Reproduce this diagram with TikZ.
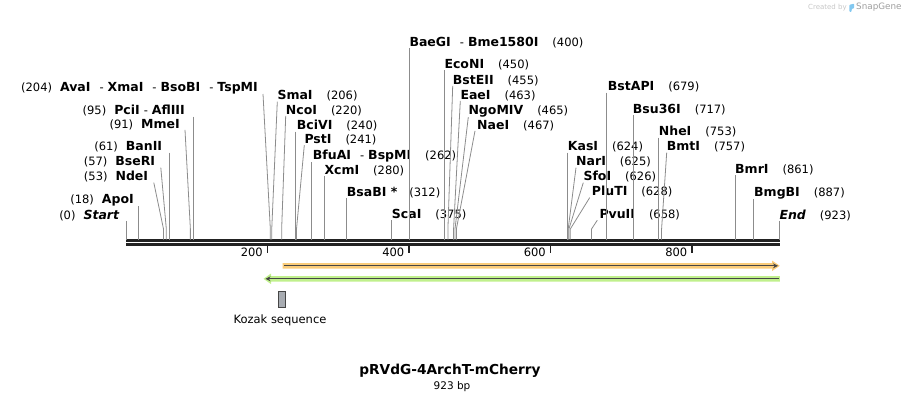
\documentclass[tikz,border=0pt]{standalone}
\usepackage{fontspec}
\setmainfont{DejaVu Sans}
\usetikzlibrary{arrows.meta}
\definecolor{cutgray}{RGB}{140,140,140}
\definecolor{seqdark}{RGB}{34,34,34}
\definecolor{featorange}{RGB}{250,204,122}
\definecolor{featgreen}{RGB}{192,240,140}
\definecolor{featline}{RGB}{70,70,70}
\definecolor{kozakgray}{RGB}{168,172,178}
\definecolor{logoblue}{RGB}{130,200,240}
\newcommand\en[1]{{\fontsize{12.5}{13}\selectfont\bfseries #1}}
\newcommand\cutsep{\hspace{9pt}-\hspace{4pt}}

\begin{document}
\begin{tikzpicture}[x=1pt,y=-1pt,
    enz/.style={font=\fontsize{11.5}{13}\selectfont, inner sep=0pt},
    rlab/.style={enz, anchor=base west},
    llab/.style={enz, anchor=base east},
    cut/.style={draw=cutgray, line width=0.8pt}]
        \def\xo{126}
        \def\scl{0.7075}
        \useasboundingbox (0,0) rectangle (906,402);

        % Sequence, 923 bp
        \coordinate (seqtop) at (\xo,239.5);
        \draw[seqdark, line width=2.5pt] (\xo,240.5) -- (779.5,240.5);
        \draw[seqdark, line width=2.5pt] (\xo,244.3) -- (779.5,244.3);

        % Ruler
        \draw[seqdark, line width=1.5pt] ({\xo+200*\scl},245) -- ++(0,8);
        \draw[seqdark, line width=1.5pt] ({\xo+400*\scl},245) -- ++(0,8);
        \draw[seqdark, line width=1.5pt] ({\xo+600*\scl},245) -- ++(0,8);
        \draw[seqdark, line width=1.5pt] ({\xo+800*\scl},245) -- ++(0,8);
        \node[enz, anchor=east] (t200) at ({\xo+200*\scl-4.5},252.5) {200};
        \node[enz, anchor=east] (t400) at ({\xo+400*\scl-4.5},252.5) {400};
        \node[enz, anchor=east] (t600) at ({\xo+600*\scl-4.5},252.5) {600};
        \node[enz, anchor=east] (t800) at ({\xo+800*\scl-4.5},252.5) {800};

        % Cut positions
        \coordinate (cstart) at ({\xo+0*\scl},229);
        \coordinate (capo) at ({\xo+18*\scl},229);
        \coordinate (cnde) at ({\xo+53*\scl},229);
        \coordinate (cbse) at ({\xo+57*\scl},229);
        \coordinate (cban) at ({\xo+61*\scl},229);
        \coordinate (cmme) at ({\xo+91*\scl},229);
        \coordinate (cpci) at ({\xo+95*\scl},229);
        \coordinate (cava) at ({\xo+204*\scl},229);
        \coordinate (csma) at ({\xo+206*\scl},229);
        \coordinate (cnco) at ({\xo+220*\scl},229);
        \coordinate (cbci) at ({\xo+240*\scl},229);
        \coordinate (cpst) at ({\xo+241*\scl},229);
        \coordinate (cbfu) at ({\xo+262*\scl},229);
        \coordinate (cxcm) at ({\xo+280*\scl},229);
        \coordinate (cbsa) at ({\xo+312*\scl},229);
        \coordinate (csca) at ({\xo+375*\scl},229);
        \coordinate (cbae) at ({\xo+400*\scl},229);
        \coordinate (ceco) at ({\xo+450*\scl},229);
        \coordinate (cbst) at ({\xo+455*\scl},229);
        \coordinate (ceae) at ({\xo+463*\scl},229);
        \coordinate (cngo) at ({\xo+465*\scl},229);
        \coordinate (cnae) at ({\xo+467*\scl},229);
        \coordinate (ckas) at ({\xo+624*\scl},229);
        \coordinate (cnar) at ({\xo+625*\scl},229);
        \coordinate (csfo) at ({\xo+626*\scl},229);
        \coordinate (cplu) at ({\xo+628*\scl},229);
        \coordinate (cpvu) at ({\xo+658*\scl},229);
        \coordinate (cbsta) at ({\xo+679*\scl},229);
        \coordinate (cbsu) at ({\xo+717*\scl},229);
        \coordinate (cnhe) at ({\xo+753*\scl},229);
        \coordinate (cbmt) at ({\xo+757*\scl},229);
        \coordinate (cbmr) at ({\xo+861*\scl},229);
        \coordinate (cbmg) at ({\xo+887*\scl},229);
        \coordinate (cend) at ({\xo+923*\scl},229);

        % Left labels
        \node[llab] (ava) at (258,91.2) {(204)\hspace{8pt}\en{AvaI}\cutsep\en{XmaI}\cutsep\en{BsoBI}\cutsep\en{TspMI}};
        \node[llab] (pci) at (185,114.9) {(95)\hspace{8pt}\en{PciI}\hspace{4pt}-\hspace{4pt}\en{AflIII}};
        \node[llab] (mme) at (180,128.2) {(91)\hspace{8pt}\en{MmeI}};
        \node[llab] (ban) at (162.3,150.9) {(61)\hspace{8pt}\en{BanII}};
        \node[llab] (bse) at (155.3,165.9) {(57)\hspace{8pt}\en{BseRI}};
        \node[llab] (nde) at (148.3,180.9) {(53)\hspace{8pt}\en{NdeI}};
        \node[llab] (apo) at (134,203.5) {(18)\hspace{8pt}\en{ApoI}};
        \node[llab] (start) at (119.3,219.2) {(0)\hspace{8pt}\en{\itshape Start}};

        % Right labels
        \node[rlab] (sma) at (277.3,99.9) {\en{SmaI}\hspace{14pt}(206)};
        \node[rlab] (nco) at (285.7,114.2) {\en{NcoI}\hspace{14pt}(220)};
        \node[rlab] (bci) at (296.7,129.9) {\en{BciVI}\hspace{14pt}(240)};
        \node[rlab] (pst) at (304.3,143.5) {\en{PstI}\hspace{14pt}(241)};
        \node[rlab] (bfu) at (312.7,159.2) {\en{BfuAI}\cutsep\en{BspMI}\hspace{14pt}(262)};
        \node[rlab] (xcm) at (324.3,174.2) {\en{XcmI}\hspace{14pt}(280)};
        \node[rlab] (bsa) at (346.7,196.5) {\en{BsaBI *}\hspace{12pt}(312)};
        \node[rlab] (sca) at (391.7,218.5) {\en{ScaI}\hspace{14pt}(375)};
        \node[rlab] (bae) at (409.3,46.5) {\en{BaeGI}\cutsep\en{Bme1580I}\hspace{14pt}(400)};
        \node[rlab] (eco) at (444.3,68.5) {\en{EcoNI}\hspace{14pt}(450)};
        \node[rlab] (bst) at (452.7,84.2) {\en{BstEII}\hspace{14pt}(455)};
        \node[rlab] (eae) at (460.3,99.2) {\en{EaeI}\hspace{14pt}(463)};
        \node[rlab] (ngo) at (468.3,114.2) {\en{NgoMIV}\hspace{14pt}(465)};
        \node[rlab] (nae) at (477,129.2) {\en{NaeI}\hspace{14pt}(467)};
        \node[rlab] (kas) at (567.7,150.9) {\en{KasI}\hspace{14pt}(624)};
        \node[rlab] (nar) at (576,165.9) {\en{NarI}\hspace{14pt}(625)};
        \node[rlab] (sfo) at (583.3,180.9) {\en{SfoI}\hspace{14pt}(626)};
        \node[rlab] (plu) at (591.7,195.9) {\en{PluTI}\hspace{14pt}(628)};
        \node[rlab] (pvu) at (599.3,218.5) {\en{PvuII}\hspace{14pt}(658)};
        \node[rlab] (bsta) at (607.7,90.9) {\en{BstAPI}\hspace{14pt}(679)};
        \node[rlab] (bsu) at (632.7,113.5) {\en{Bsu36I}\hspace{14pt}(717)};
        \node[rlab] (nhe) at (658.7,135.9) {\en{NheI}\hspace{14pt}(753)};
        \node[rlab] (bmt) at (666.7,150.9) {\en{BmtI}\hspace{14pt}(757)};
        \node[rlab] (bmr) at (735,173.5) {\en{BmrI}\hspace{14pt}(861)};
        \node[rlab] (bmg) at (754,196.5) {\en{BmgBI}\hspace{14pt}(887)};
        \node[rlab] (endl) at (779.3,219.2) {\en{\itshape End}\hspace{14pt}(923)};

        % Lines from labels to cut sites
        \draw[cut] ([xshift=5pt]ava.south east) -- (cava) -- (cava |- seqtop);
        \draw[cut] (cpci |- pci.south) -- (cpci |- seqtop);
        \draw[cut] ([xshift=5pt]mme.south east) -- (cmme) -- (cmme |- seqtop);
        \draw[cut] (cban |- ban.south) -- (cban |- seqtop);
        \draw[cut] ([xshift=5.5pt]bse.south east) -- (cbse) -- (cbse |- seqtop);
        \draw[cut] ([xshift=5.5pt]nde.south east) -- (cnde) -- (cnde |- seqtop);
        \draw[cut] (capo |- apo.south) -- (capo |- seqtop);
        \draw[cut] (cstart |- start.south) -- (cstart |- seqtop);
        \draw[cut] (sma.south west) -- (csma) -- (csma |- seqtop);
        \draw[cut] (nco.south west) -- (cnco) -- (cnco |- seqtop);
        \draw[cut] (cbci |- bci.south) -- (cbci |- seqtop);
        \draw[cut] (pst.south west) -- (cpst) -- (cpst |- seqtop);
        \draw[cut] (cbfu |- bfu.south) -- (cbfu |- seqtop);
        \draw[cut] (cxcm |- xcm.south) -- (cxcm |- seqtop);
        \draw[cut] (cbsa |- bsa.south) -- (cbsa |- seqtop);
        \draw[cut] (csca |- sca.south) -- (csca |- seqtop);
        \draw[cut] (cbae |- bae.south) -- (cbae |- seqtop);
        \draw[cut] (ceco |- eco.south) -- (ceco |- seqtop);
        \draw[cut] (bst.south west) -- (cbst) -- (cbst |- seqtop);
        \draw[cut] (eae.south west) -- (ceae) -- (ceae |- seqtop);
        \draw[cut] (ngo.south west) -- (cngo) -- (cngo |- seqtop);
        \draw[cut] ([xshift=-2pt]nae.south west) -- (cnae) -- (cnae |- seqtop);
        \draw[cut] (ckas |- kas.south) -- (ckas |- seqtop);
        \draw[cut] (nar.south west) -- (cnar) -- (cnar |- seqtop);
        \draw[cut] (sfo.south west) -- (csfo) -- (csfo |- seqtop);
        \draw[cut] ([xshift=-2pt]plu.south west) -- (cplu) -- (cplu |- seqtop);
        \draw[cut] ([xshift=-2pt]pvu.south west) -- (cpvu) -- (cpvu |- seqtop);
        \draw[cut] (cbsta |- bsta.south) -- (cbsta |- seqtop);
        \draw[cut] (cbsu |- bsu.south) -- (cbsu |- seqtop);
        \draw[cut] (cnhe |- nhe.south) -- (cnhe |- seqtop);
        \draw[cut] (bmt.south west) -- (cbmt) -- (cbmt |- seqtop);
        \draw[cut] (cbmr |- bmr.south) -- (cbmr |- seqtop);
        \draw[cut] (cbmg |- bmg.south) -- (cbmg |- seqtop);
        \draw[cut] (cend |- endl.south) -- (cend |- seqtop);

        % Forward feature (orange)
        \fill[featorange] (282.5,263) -- (772,263) -- (772,260.5) -- (779.8,265.8) -- (772,271.1) -- (772,268.6) -- (282.5,268.6) -- cycle;
        \draw[featline, line width=1.3pt, -{Stealth[length=5pt,width=5pt]}] (284,265.8) -- (778,265.8);

        % Reverse feature (green)
        \fill[featgreen] (779.8,276) -- (271,276) -- (271,273.5) -- (263.5,278.8) -- (271,284.1) -- (271,281.7) -- (779.8,281.7) -- cycle;
        \draw[featline, line width=1.3pt, -{Stealth[length=5pt,width=5pt]}] (778.5,278.8) -- (265.5,278.8);

        % Kozak sequence
        \node[draw=featline, fill=kozakgray, line width=0.8pt, inner sep=0pt, minimum width=7.4pt, minimum height=16.3pt] (kozak) at (282,299.2) {};
        \node[enz] (kozaklbl) at (280,320.7) {Kozak sequence};

        % Title
        \node[inner sep=0pt, font=\fontsize{13.7}{16}\selectfont\bfseries] (title) at (450,371) {pRVdG-4ArchT-mCherry};
        \node[inner sep=0pt, font=\fontsize{10.5}{12}\selectfont] (length) at (452,386.2) {923 bp};

        % Created by SnapGene
        \node[inner sep=0pt, anchor=west, text=black!22, font=\fontsize{7}{8}\selectfont] (madeby) at (808,7.5) {Created by};
        \fill[logoblue, rounded corners=0.8pt] (849.3,4.8) -- (854.2,3.6) -- (854.2,8.2) -- (851.6,9) -- (851.6,11.8) -- (849.3,11.8) -- cycle;
        \node[inner sep=0pt, anchor=west, text=black!38, font=\fontsize{8.8}{10}\selectfont] (snapgene) at (856,7.5) {SnapGene};
\end{tikzpicture}
\end{document}
